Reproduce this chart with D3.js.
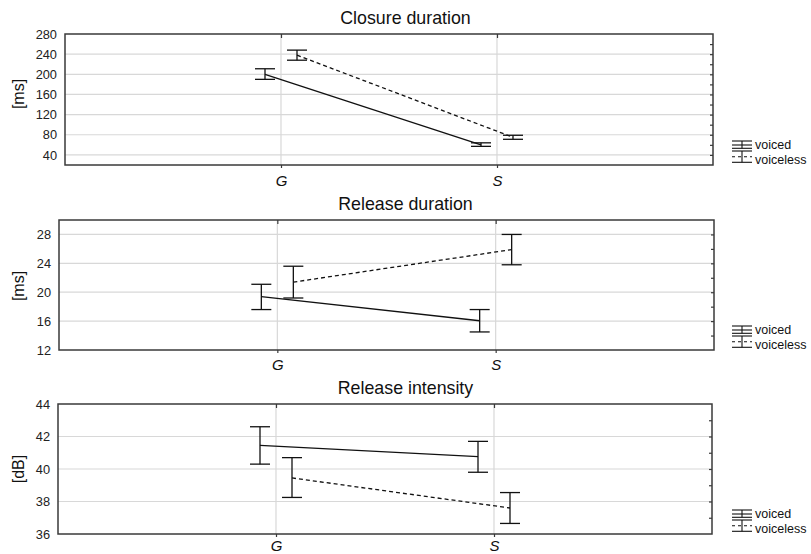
<!DOCTYPE html>
<html>
<head>
<meta charset="utf-8">
<script src="https://cdn.jsdelivr.net/npm/d3@7"></script>
<style>
  body { margin: 0; background: #fff; }
  svg { display: block; font-family: "Liberation Sans", Arial, sans-serif; }
</style>
</head>
<body>
<svg id="chart" width="811" height="554"></svg>
<script>
// ---------- data ----------
const categories = ["G", "S"];
const seriesNames = ["voiced", "voiceless"];

const panelTitles = ["Closure duration", "Release duration", "Release intensity"];
const yLabels = ["[ms]", "[ms]", "[dB]"];
const yDomains = [[20, 280], [12, 30], [36, 44]];
const yTicks = [[40, 80, 120, 160, 200, 240, 280], [12, 16, 20, 24, 28], [36, 38, 40, 42, 44]];
const yMinorTicks = [
  [40, 60, 80, 100, 120, 140, 160, 180, 200, 220, 240, 260],
  [14, 16, 18, 20, 22, 24, 26, 28],
  [37, 38, 39, 40, 41, 42, 43]
];

// Closure duration
const closureVoicedMean = [200, 60];
const closureVoicedLo = [190, 57];
const closureVoicedHi = [211, 64];
const closureVoicelessMean = [238, 75];
const closureVoicelessLo = [228, 71];
const closureVoicelessHi = [248, 79];

// Release duration
const releaseVoicedMean = [19.4, 16.05];
const releaseVoicedLo = [17.6, 14.5];
const releaseVoicedHi = [21.1, 17.6];
const releaseVoicelessMean = [21.4, 25.9];
const releaseVoicelessLo = [19.2, 23.8];
const releaseVoicelessHi = [23.6, 28.0];

// Release intensity
const intensityVoicedMean = [41.45, 40.76];
const intensityVoicedLo = [40.3, 39.8];
const intensityVoicedHi = [42.6, 41.7];
const intensityVoicelessMean = [39.45, 37.6];
const intensityVoicelessLo = [38.25, 36.65];
const intensityVoicelessHi = [40.7, 38.55];

const panelSeries = [
  [
    { mean: closureVoicedMean, lo: closureVoicedLo, hi: closureVoicedHi },
    { mean: closureVoicelessMean, lo: closureVoicelessLo, hi: closureVoicelessHi }
  ],
  [
    { mean: releaseVoicedMean, lo: releaseVoicedLo, hi: releaseVoicedHi },
    { mean: releaseVoicelessMean, lo: releaseVoicelessLo, hi: releaseVoicelessHi }
  ],
  [
    { mean: intensityVoicedMean, lo: intensityVoicedLo, hi: intensityVoicedHi },
    { mean: intensityVoicelessMean, lo: intensityVoicelessLo, hi: intensityVoicelessHi }
  ]
];

// ---------- layout ----------
const frames = [
  { left: 65, right: 713, top: 34, bottom: 165, xPad: 7, yLabelCy: 94 },
  { left: 59, right: 714, top: 220, bottom: 350, xPad: 6, yLabelCy: 286 },
  { left: 58, right: 712, top: 404, bottom: 534, xPad: 3, yLabelCy: 469 }
];
const seriesOffset = [-16, 16];
const seriesDash = [null, "4,3"];
const capHalf = 10;
const frameColor = "#3a3a3a";
const gridColor = "#d8d8d8";

const svg = d3.select("#chart");

frames.forEach((f, pi) => {
  const g = svg.append("g");
  const x = d3.scalePoint().domain(categories).range([f.left, f.right]).padding(1);
  const y = d3.scaleLinear().domain(yDomains[pi]).range([f.bottom, f.top]);

  // horizontal grid
  g.selectAll(".hgrid").data(yTicks[pi].filter(v => v > yDomains[pi][0] && v < yDomains[pi][1]))
    .enter().append("line")
    .attr("x1", f.left).attr("x2", f.right)
    .attr("y1", d => y(d)).attr("y2", d => y(d))
    .attr("stroke", gridColor).attr("stroke-width", 1.2);

  // vertical grid
  g.selectAll(".vgrid").data(categories).enter().append("line")
    .attr("x1", d => x(d)).attr("x2", d => x(d))
    .attr("y1", f.top).attr("y2", f.bottom)
    .attr("stroke", gridColor).attr("stroke-width", 1.2);

  // left axis (labels only)
  const yAxis = d3.axisLeft(y).tickValues(yTicks[pi]).tickSize(0).tickPadding(8);
  const ya = g.append("g").attr("transform", `translate(${f.left},0)`).call(yAxis);
  ya.select(".domain").remove();
  ya.selectAll("text").attr("font-size", 12.8).attr("fill", "#222")
    .attr("font-family", "'Liberation Sans', Arial, sans-serif");

  // right minor ticks (inside)
  const yRight = d3.axisRight(y).tickValues(yMinorTicks[pi]).tickSize(-3).tickFormat("");
  const yr = g.append("g").attr("transform", `translate(${f.right},0)`).call(yRight);
  yr.select(".domain").remove();
  yr.selectAll("line").attr("stroke", frameColor).attr("stroke-width", 1.2);

  // bottom axis
  const xAxis = d3.axisBottom(x).tickSize(3).tickPadding(f.xPad);
  const xa = g.append("g").attr("transform", `translate(0,${f.bottom})`).call(xAxis);
  xa.select(".domain").remove();
  xa.selectAll("line").attr("stroke", frameColor).attr("stroke-width", 1.2);
  xa.selectAll("text").attr("font-size", 15).attr("font-style", "italic").attr("fill", "#111")
    .attr("font-family", "'Liberation Sans', Arial, sans-serif");

  // top ticks (inside)
  const xTop = d3.axisTop(x).tickSize(-4).tickFormat("");
  const xt = g.append("g").attr("transform", `translate(0,${f.top})`).call(xTop);
  xt.select(".domain").remove();
  xt.selectAll("line").attr("stroke", frameColor).attr("stroke-width", 1.2);

  // frame
  g.append("rect")
    .attr("x", f.left).attr("y", f.top)
    .attr("width", f.right - f.left).attr("height", f.bottom - f.top)
    .attr("fill", "none").attr("stroke", frameColor).attr("stroke-width", 1.5);

  // title
  g.append("text")
    .attr("x", 405.5).attr("y", f.top - 10)
    .attr("text-anchor", "middle").attr("font-size", 17.8).attr("fill", "#111")
    .text(panelTitles[pi]);

  // y label
  g.append("text")
    .attr("transform", `translate(${24},${f.yLabelCy}) rotate(-90)`)
    .attr("text-anchor", "middle").attr("font-size", 16).attr("fill", "#111")
    .text(yLabels[pi]);

  // series
  panelSeries[pi].forEach((s, si) => {
    const pts = categories.map((c, ci) => ({
      cx: x(c) + seriesOffset[si],
      m: s.mean[ci], lo: s.lo[ci], hi: s.hi[ci]
    }));
    const line = d3.line().x(d => d.cx).y(d => y(d.m));
    g.append("path").datum(pts)
      .attr("d", line).attr("fill", "none")
      .attr("stroke", "#111").attr("stroke-width", 1.3)
      .attr("stroke-dasharray", seriesDash[si]);

    const eb = g.selectAll(null).data(pts).enter().append("g");
    eb.append("line")
      .attr("x1", d => d.cx).attr("x2", d => d.cx)
      .attr("y1", d => y(d.lo)).attr("y2", d => y(d.hi))
      .attr("stroke", "#111").attr("stroke-width", 1.3);
    eb.append("line")
      .attr("x1", d => d.cx - capHalf).attr("x2", d => d.cx + capHalf)
      .attr("y1", d => y(d.lo)).attr("y2", d => y(d.lo))
      .attr("stroke", "#111").attr("stroke-width", 1.3);
    eb.append("line")
      .attr("x1", d => d.cx - capHalf).attr("x2", d => d.cx + capHalf)
      .attr("y1", d => y(d.hi)).attr("y2", d => y(d.hi))
      .attr("stroke", "#111").attr("stroke-width", 1.3);
  });

  // legend
  const lg = g.append("g");
  const gx0 = 732, gx1 = 752, gxm = 742;
  const glyphs = [
    { top: f.bottom - 24, mid: f.bottom - 20, bot: f.bottom - 16.7, text: f.bottom - 16 },
    { top: f.bottom - 14, mid: f.bottom - 8.3, bot: f.bottom - 2.7, text: f.bottom - 1.5 }
  ];
  seriesNames.forEach((name, si) => {
    const gl = glyphs[si];
    [gl.top, gl.bot].forEach(yy => {
      lg.append("line").attr("x1", gx0).attr("x2", gx1).attr("y1", yy).attr("y2", yy)
        .attr("stroke", "#111").attr("stroke-width", 1.1);
    });
    lg.append("line").attr("x1", gxm).attr("x2", gxm).attr("y1", gl.top).attr("y2", gl.bot)
      .attr("stroke", "#111").attr("stroke-width", 1.1);
    lg.append("line").attr("x1", gx0).attr("x2", gx1).attr("y1", gl.mid).attr("y2", gl.mid)
      .attr("stroke", "#111").attr("stroke-width", 1.1)
      .attr("stroke-dasharray", si === 1 ? "3,3" : null);
    lg.append("text").attr("x", 755).attr("y", gl.text)
      .attr("font-size", 12.5).attr("fill", "#111").text(name);
  });
});
</script>
</body>
</html>
